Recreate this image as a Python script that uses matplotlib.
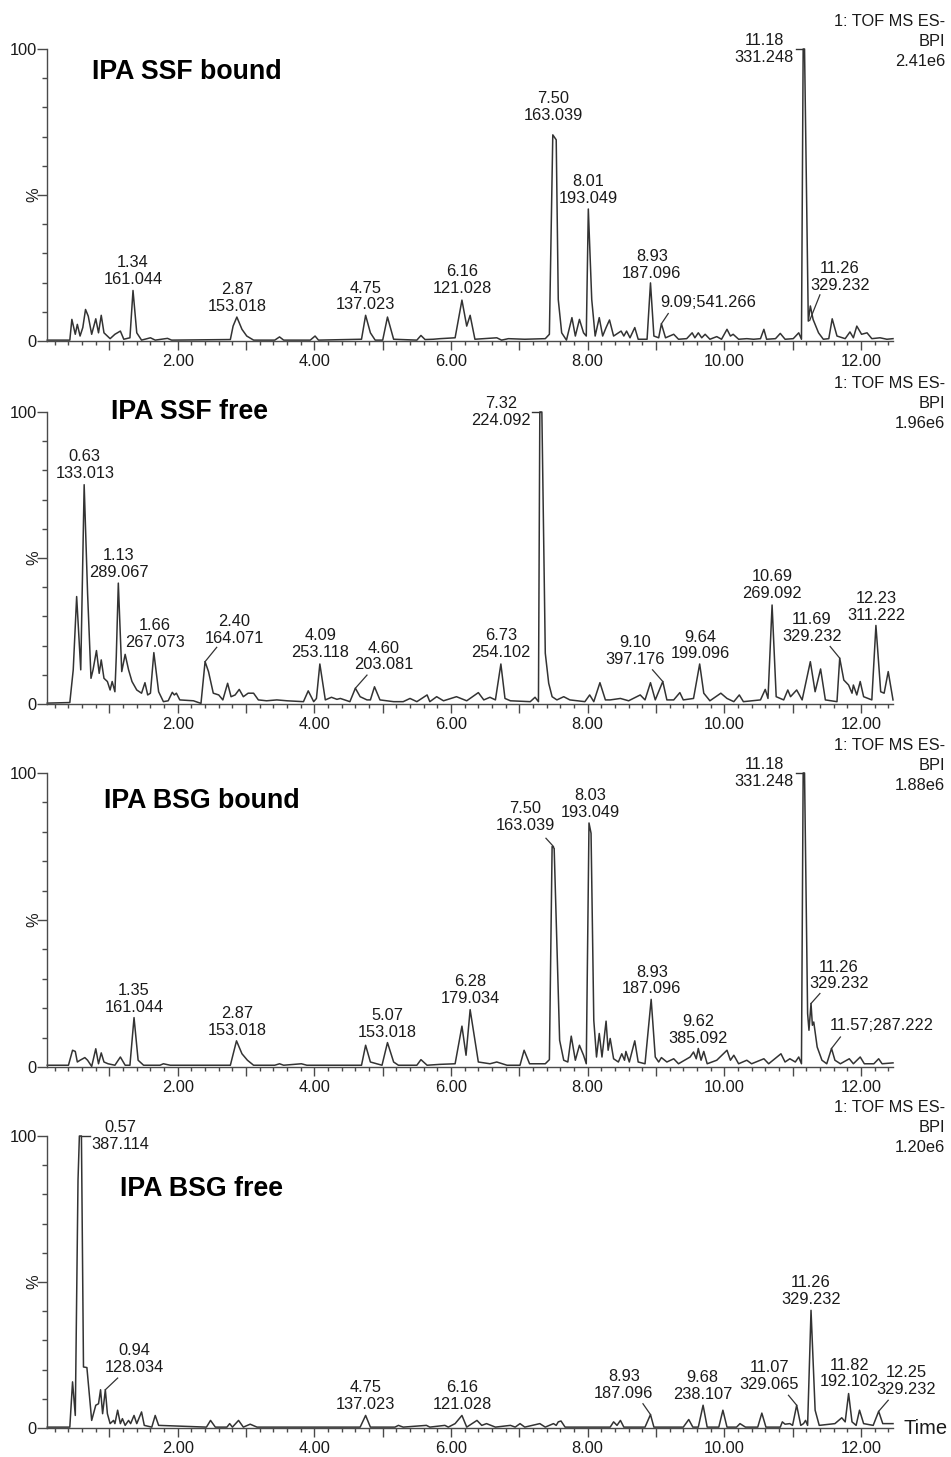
import matplotlib
matplotlib.use("Agg")
import matplotlib.pyplot as plt
from matplotlib.ticker import MultipleLocator, FixedLocator, FuncFormatter

plt.rcParams['font.family'] = ['Liberation Sans', 'DejaVu Sans']

# ---------------- data ----------------
titles = ["IPA SSF bound", "IPA SSF free", "IPA BSG bound", "IPA BSG free"]
header = "1: TOF MS ES-"
header2 = "BPI"
bpi_max = ["2.41e6", "1.96e6", "1.88e6", "1.20e6"]
x_range = (0.086, 12.47)

# Panel 1: IPA SSF bound
t1 = [0.09, 0.42, 0.45, 0.50, 0.53, 0.57, 0.61, 0.65, 0.69, 0.74, 0.80, 0.84, 0.88, 0.92, 1.01, 1.08,
      1.16, 1.21, 1.30, 1.345, 1.40, 1.47, 1.60, 1.67, 1.85, 1.91, 2.77, 2.81, 2.865, 2.94, 3.01, 3.11,
      3.42, 3.49, 3.55, 3.94, 4.01, 4.06, 4.69, 4.75, 4.82, 4.89, 5.00, 5.07, 5.16, 5.50, 5.56, 5.62,
      5.74, 5.84, 6.06, 6.16, 6.23, 6.28, 6.35, 6.67, 6.74, 6.84, 7.08, 7.38, 7.44, 7.46, 7.49, 7.54,
      7.57, 7.62, 7.69, 7.77, 7.82, 7.88, 7.94, 7.98, 8.01, 8.06, 8.11, 8.17, 8.22, 8.27, 8.32, 8.38,
      8.45, 8.49, 8.53, 8.57, 8.62, 8.69, 8.74, 8.87, 8.92, 8.97, 9.04, 9.08, 9.14, 9.26, 9.33, 9.45,
      9.53, 9.57, 9.62, 9.67, 9.72, 9.79, 9.89, 9.96, 10.04, 10.09, 10.13, 10.21, 10.33, 10.43, 10.53,
      10.58, 10.62, 10.75, 10.82, 10.89, 11.01, 11.09, 11.13, 11.155, 11.175, 11.23, 11.26, 11.30,
      11.38, 11.45, 11.53, 11.58, 11.65, 11.77, 11.84, 11.89, 11.94, 12.01, 12.09, 12.16, 12.28,
      12.38, 12.47]
y1 = [0.3, 0.3, 7.4, 2.3, 5.7, 1.7, 4.6, 10.8, 8.5, 2.3, 7.6, 2.8, 8.8, 2.8, 0.8, 2.3,
      3.4, 0.6, 1.1, 17.3, 2.8, 0.3, 1.1, 0.3, 0.9, 0.3, 0.5, 5.1, 8.2, 4.0, 1.7, 0.3,
      0.3, 1.4, 0.3, 0.3, 1.7, 0.3, 0.6, 8.8, 2.8, 0.3, 0.3, 8.2, 0.6, 0.3, 1.9, 0.5,
      0.6, 0.8, 1.1, 14.0, 5.1, 8.8, 0.6, 1.1, 0.3, 0.8, 0.6, 0.8, 2.3, 30.0, 70.6, 68.9,
      14.2, 2.8, 0.3, 8.0, 1.7, 7.4, 2.8, 1.7, 45.2, 14.2, 1.7, 8.0, 1.7, 4.6, 7.2, 1.7,
      2.8, 3.4, 1.7, 3.4, 1.1, 4.6, 0.6, 0.6, 19.9, 1.7, 1.1, 5.9, 1.1, 2.3, 0.6, 0.8,
      2.8, 1.1, 2.8, 1.1, 2.3, 0.6, 1.5, 0.6, 4.0, 1.7, 2.3, 0.6, 0.8, 0.6, 0.8,
      4.0, 0.6, 0.8, 2.6, 0.6, 0.8, 2.8, 0.6, 100.0, 100.0, 6.8, 12.0, 7.4,
      2.8, 0.6, 0.8, 7.6, 1.7, 0.8, 3.1, 1.1, 5.1, 2.3, 2.8, 0.8, 1.1,
      0.6, 0.8]

# Panel 2: IPA SSF free
t2 = [0.09, 0.42, 0.47, 0.52, 0.58, 0.63, 0.68, 0.73, 0.76, 0.81, 0.85, 0.88, 0.92, 0.97, 1.01, 1.04,
      1.08, 1.10, 1.13, 1.18, 1.23, 1.28, 1.33, 1.40, 1.47, 1.52, 1.56, 1.60, 1.65, 1.72, 1.79, 1.86,
      1.92, 1.95, 1.98, 2.03, 2.23, 2.34, 2.40, 2.45, 2.52, 2.60, 2.66, 2.73, 2.78, 2.84, 2.90, 2.96,
      3.03, 3.11, 3.18, 3.30, 3.45, 3.60, 3.84, 3.91, 3.99, 4.03, 4.08, 4.16, 4.25, 4.33, 4.38, 4.52,
      4.60, 4.67, 4.77, 4.82, 4.88, 4.96, 5.16, 5.30, 5.40, 5.50, 5.65, 5.69, 5.79, 5.89, 6.08, 6.23,
      6.40, 6.48, 6.57, 6.65, 6.73, 6.79, 6.87, 7.16, 7.23, 7.28, 7.30, 7.33, 7.38, 7.43, 7.48, 7.55,
      7.65, 7.74, 7.96, 8.03, 8.09, 8.18, 8.26, 8.33, 8.48, 8.60, 8.77, 8.84, 8.92, 8.99, 9.10, 9.16,
      9.26, 9.35, 9.40, 9.55, 9.64, 9.70, 9.79, 9.95, 10.04, 10.14, 10.22, 10.28, 10.53, 10.60, 10.64,
      10.70, 10.76, 10.87, 10.93, 10.97, 11.06, 11.14, 11.26, 11.33, 11.41, 11.48, 11.65, 11.69, 11.75,
      11.82, 11.87, 11.89, 11.94, 11.99, 12.04, 12.16, 12.22, 12.29, 12.34, 12.40, 12.47]
y2 = [0.3, 0.5, 11.7, 36.8, 11.7, 75.1, 37.9, 8.8, 11.7, 18.3, 10.5, 15.1, 8.8, 7.7, 4.8, 7.7,
      4.2, 16.2, 41.4, 11.1, 17.0, 11.7, 7.7, 4.8, 3.7, 7.3, 3.1, 3.7, 17.6, 4.2, 0.8, 1.1,
      4.0, 3.1, 3.7, 1.4, 1.1, 0.2, 14.5, 11.1, 3.7, 3.1, 1.4, 7.1, 2.5, 3.1, 5.0, 2.5,
      3.7, 3.7, 1.4, 1.1, 1.4, 1.1, 0.8, 4.5, 0.8, 1.9, 13.7, 1.4, 2.3, 1.6, 1.9, 0.8,
      5.4, 2.5, 1.4, 1.4, 5.9, 1.4, 0.8, 0.8, 1.9, 0.8, 3.1, 0.8, 2.5, 1.1, 2.5, 1.1,
      3.9, 1.4, 2.3, 1.4, 13.7, 1.9, 1.1, 0.8, 2.3, 0.8, 100.0, 100.0, 17.4, 7.1, 2.5, 1.4,
      2.5, 1.4, 0.8, 3.1, 0.8, 7.3, 1.4, 1.4, 1.9, 1.1, 3.1, 1.4, 7.3, 1.4, 7.7, 1.4,
      1.4, 3.9, 1.4, 1.9, 13.7, 3.7, 1.1, 3.7, 1.9, 0.8, 3.1, 0.8, 1.4, 5.0, 1.9,
      33.9, 2.5, 1.4, 4.8, 2.5, 4.8, 1.4, 14.5, 4.2, 12.0, 1.4, 0.8, 15.7, 8.2,
      6.5, 3.7, 6.5, 3.1, 7.7, 2.5, 1.4, 26.9, 4.2, 3.7, 11.1, 1.4]

# Panel 3: IPA BSG bound
t3 = [0.09, 0.40, 0.46, 0.50, 0.53, 0.57, 0.61, 0.64, 0.68, 0.74, 0.80, 0.84, 0.88, 0.92, 0.98, 1.08,
      1.16, 1.23, 1.30, 1.36, 1.42, 1.50, 1.74, 1.79, 1.89, 2.77, 2.86, 2.94, 3.02, 3.11, 3.42, 3.49,
      3.55, 3.81, 3.89, 4.69, 4.75, 4.82, 4.99, 5.07, 5.16, 5.23, 5.50, 5.56, 5.65, 5.84, 6.06, 6.16,
      6.22, 6.28, 6.40, 6.57, 6.67, 6.82, 7.01, 7.07, 7.15, 7.38, 7.44, 7.48, 7.51, 7.54, 7.59, 7.65,
      7.71, 7.76, 7.82, 7.88, 7.94, 7.98, 8.02, 8.05, 8.09, 8.13, 8.17, 8.21, 8.27, 8.30, 8.33, 8.38,
      8.45, 8.50, 8.54, 8.56, 8.61, 8.69, 8.74, 8.84, 8.93, 8.99, 9.04, 9.08, 9.16, 9.26, 9.33, 9.50,
      9.55, 9.59, 9.62, 9.66, 9.70, 9.75, 9.89, 10.04, 10.09, 10.14, 10.21, 10.33, 10.40, 10.58, 10.65,
      10.83, 10.89, 10.96, 11.04, 11.09, 11.13, 11.155, 11.175, 11.22, 11.24, 11.27, 11.29, 11.31,
      11.36, 11.43, 11.50, 11.57, 11.62, 11.70, 11.83, 11.89, 11.99, 12.05, 12.19, 12.26, 12.31, 12.47]
y3 = [0.6, 0.6, 5.7, 5.3, 1.7, 2.3, 2.8, 3.2, 2.3, 0.2, 6.2, 1.1, 4.8, 1.7, 1.1, 0.6,
      3.4, 0.6, 0.6, 16.8, 2.3, 0.6, 0.6, 1.1, 0.6, 0.6, 8.9, 4.5, 2.3, 0.6, 0.6, 1.1,
      0.6, 1.1, 0.6, 0.6, 7.4, 1.7, 0.6, 8.3, 1.7, 0.6, 0.6, 2.5, 0.6, 0.9, 1.1, 13.9,
      4.0, 19.5, 1.7, 1.1, 1.7, 0.6, 0.6, 5.7, 1.1, 1.1, 2.5, 75.0, 74.4, 50.0, 9.1, 2.3,
      1.7, 10.5, 2.3, 7.4, 4.0, 1.1, 83.0, 79.5, 15.9, 3.4, 11.4, 3.4, 15.6, 5.7, 9.7, 2.8,
      1.7, 4.5, 2.3, 5.3, 1.7, 8.9, 1.7, 1.1, 23.0, 3.4, 1.7, 3.2, 1.7, 2.8, 1.1, 3.4,
      5.1, 2.8, 6.3, 2.3, 5.3, 1.1, 2.3, 5.7, 2.3, 4.0, 1.1, 2.3, 1.1, 2.8, 1.1,
      4.5, 1.7, 2.8, 1.7, 3.4, 1.1, 100.0, 100.0, 18.2, 12.5, 21.6, 14.2, 15.3,
      6.8, 2.3, 1.1, 6.3, 2.3, 1.1, 2.8, 1.1, 3.4, 1.1, 1.1, 2.8, 1.1, 1.4]

# Panel 4: IPA BSG free
t4 = [0.09, 0.42, 0.46, 0.50, 0.54, 0.56, 0.59, 0.62, 0.67, 0.74, 0.80, 0.84, 0.87, 0.90, 0.94, 0.97,
      1.01, 1.06, 1.08, 1.12, 1.16, 1.19, 1.23, 1.28, 1.31, 1.36, 1.40, 1.47, 1.51, 1.62, 1.67, 1.72,
      2.42, 2.48, 2.55, 2.72, 2.76, 2.80, 2.89, 2.96, 3.06, 3.16, 4.67, 4.75, 4.82, 5.18, 5.23, 5.30,
      5.64, 5.69, 5.91, 5.96, 6.06, 6.16, 6.23, 6.38, 6.45, 6.52, 6.65, 6.87, 6.94, 7.01, 7.08, 7.30,
      7.38, 7.50, 7.54, 7.57, 7.61, 7.67, 8.33, 8.38, 8.43, 8.48, 8.53, 8.84, 8.92, 8.97, 9.40, 9.48,
      9.54, 9.62, 9.69, 9.75, 9.92, 9.98, 10.04, 10.18, 10.23, 10.31, 10.49, 10.55, 10.61, 10.82,
      10.85, 10.89, 10.96, 11.00, 11.06, 11.12, 11.16, 11.19, 11.22, 11.27, 11.33, 11.39, 11.62,
      11.72, 11.77, 11.82, 11.87, 11.93, 11.98, 12.04, 12.18, 12.26, 12.32, 12.47]
y4 = [0.3, 0.3, 15.8, 4.3, 84.9, 100.0, 100.0, 20.9, 20.7, 2.6, 7.8, 8.3, 13.1, 4.9, 13.1, 4.9,
      1.5, 2.6, 1.5, 6.1, 1.5, 3.2, 0.9, 2.6, 1.5, 4.3, 1.5, 5.5, 0.9, 0.3, 4.3, 0.9,
      0.3, 2.6, 0.3, 0.3, 1.5, 0.3, 2.6, 0.3, 1.3, 0.3, 0.3, 4.3, 0.3, 0.3, 0.9, 0.3,
      0.9, 0.3, 0.9, 0.3, 1.5, 4.3, 0.3, 2.6, 0.9, 1.5, 0.3, 0.9, 0.3, 1.5, 0.3, 1.5,
      0.3, 1.5, 0.9, 2.1, 2.4, 0.3, 0.3, 2.1, 0.9, 2.6, 0.3, 0.3, 4.6, 0.3, 0.3, 2.9,
      0.3, 0.3, 7.8, 0.3, 0.3, 6.1, 0.3, 0.3, 1.5, 0.3, 0.3, 5.1, 0.3, 0.3,
      2.1, 1.3, 1.5, 0.9, 7.8, 0.9, 1.5, 2.6, 0.9, 40.3, 6.1, 0.9, 1.5,
      3.5, 2.1, 11.8, 2.1, 0.9, 6.1, 1.5, 0.9, 5.7, 1.5, 1.5]

# Peak labels: (retention time, m/z, peak time, peak height)
peaks1 = [("1.34", "161.044", 1.345, 17.3), ("2.87", "153.018", 2.865, 8.2),
          ("4.75", "137.023", 4.75, 8.8), ("6.16", "121.028", 6.16, 14.0),
          ("7.50", "163.039", 7.49, 70.6), ("8.01", "193.049", 8.01, 45.2),
          ("8.93", "187.096", 8.92, 19.9), ("9.09", "541.266", 9.08, 5.9),
          ("11.18", "331.248", 11.155, 100.0), ("11.26", "329.232", 11.25, 7.0)]
peaks2 = [("0.63", "133.013", 0.63, 75.1), ("1.13", "289.067", 1.13, 41.4),
          ("1.66", "267.073", 1.65, 17.6), ("2.40", "164.071", 2.40, 14.5),
          ("4.09", "253.118", 4.08, 13.7), ("4.60", "203.081", 4.60, 5.4),
          ("6.73", "254.102", 6.73, 13.7), ("7.32", "224.092", 7.30, 100.0),
          ("9.10", "397.176", 9.10, 7.7), ("9.64", "199.096", 9.64, 13.7),
          ("10.69", "269.092", 10.70, 33.9), ("11.69", "329.232", 11.69, 15.7),
          ("12.23", "311.222", 12.22, 26.9)]
peaks3 = [("1.35", "161.044", 1.36, 16.8), ("2.87", "153.018", 2.86, 8.9),
          ("5.07", "153.018", 5.07, 8.3), ("6.28", "179.034", 6.28, 19.5),
          ("7.50", "163.039", 7.50, 75.0), ("8.03", "193.049", 8.02, 83.0),
          ("8.93", "187.096", 8.93, 23.0), ("9.62", "385.092", 9.62, 6.3),
          ("11.18", "331.248", 11.155, 100.0), ("11.26", "329.232", 11.27, 21.6),
          ("11.57", "287.222", 11.57, 6.3)]
peaks4 = [("0.57", "387.114", 0.59, 100.0), ("0.94", "128.034", 0.94, 13.1),
          ("4.75", "137.023", 4.75, 4.3), ("6.16", "121.028", 6.16, 4.3),
          ("8.93", "187.096", 8.92, 4.6), ("9.68", "238.107", 9.69, 7.8),
          ("11.07", "329.065", 11.06, 7.8), ("11.26", "329.232", 11.27, 40.3),
          ("11.82", "192.102", 11.82, 11.8), ("12.25", "329.232", 12.26, 5.7)]

# ---------------- layout for labels (positions only) ----------------
# (mode, text_x, text_y, leader_x, leader_y)
lay1 = [("top", 1.345, 18.4), ("top", 2.87, 9.3), ("top", 4.75, 9.8), ("top", 6.16, 15.4),
        ("top", 7.50, 74.6), ("top", 8.01, 46.2), ("top", 8.94, 20.6),
        ("one", 9.77, 10.6, 9.18, 9.4), ("brL", 11.02, 100.0, 11.05),
        ("lead", 11.69, 16.6, 11.40, 15.8)]
lay2 = [("top", 0.64, 76.3), ("top", 1.14, 42.6), ("top", 1.66, 18.6),
        ("lead", 2.83, 20.0, 2.57, 19.4), ("top", 4.09, 15.0),
        ("lead", 5.01, 10.8, 4.77, 9.9), ("top", 6.73, 15.0), ("brL", 7.17, 100.0, 7.19),
        ("lead", 8.69, 12.7, 8.95, 11.7), ("top", 9.65, 14.6), ("top", 10.70, 35.4),
        ("lead", 11.28, 20.7, 11.55, 19.7), ("top", 12.23, 27.8)]
lay3 = [("top", 1.36, 17.7), ("top", 2.87, 9.8), ("top", 5.07, 9.2), ("top", 6.28, 20.8),
        ("lead", 7.09, 79.6, 7.39, 77.8), ("top", 8.04, 84.0), ("top", 8.94, 24.0),
        ("top", 9.62, 7.1), ("brL", 11.02, 100.0, 11.05),
        ("lead", 11.68, 25.7, 11.40, 25.0), ("one", 12.31, 11.5, 11.70, 10.2)]
lay4 = [("brR", 0.74, 100.0, 0.72), ("lead", 1.37, 18.1, 1.12, 17.1),
        ("top", 4.75, 5.6), ("top", 6.16, 5.6), ("lead", 8.53, 9.4, 8.81, 8.3),
        ("top", 9.68, 9.0), ("lead", 10.66, 12.4, 10.94, 11.2), ("top", 11.27, 41.6),
        ("top", 11.83, 13.2), ("lead", 12.66, 10.7, 12.40, 9.5)]

# ---------------- figure ----------------
W, H = 951, 1457
fig = plt.figure(figsize=(W / 100, H / 100), dpi=100)

tops = [49, 412, 773, 1136]
bots = [341, 704, 1067, 1428]
title_pos = [(92, 72), (111, 412), (104, 801), (120, 1189)]
AX_L, AX_R = 47, 893
LINE = "#333333"
SPINE = "#4a4a4a"
TXT = "#1a1a1a"
FS = 11.8

series = [(t1, y1, peaks1, lay1), (t2, y2, peaks2, lay2),
          (t3, y3, peaks3, lay3), (t4, y4, peaks4, lay4)]


def even_fmt(v, pos):
    if v > 0.5 and abs(v / 2 - round(v / 2)) < 1e-6:
        return f"{v:.2f}"
    return ""


for i, (tt, yy, pk, lay) in enumerate(series):
    top, bot = tops[i], bots[i]
    ax = fig.add_axes([AX_L / W, 1 - bot / H, (AX_R - AX_L) / W, (bot - top) / H])
    ax.plot(tt, yy, color=LINE, lw=1.1, clip_on=False)
    ax.set_xlim(*x_range)
    ax.set_ylim(0, 100)
    for s in ("top", "right"):
        ax.spines[s].set_visible(False)
    for s in ("left", "bottom"):
        ax.spines[s].set_color(SPINE)
        ax.spines[s].set_linewidth(1.0)
    ax.xaxis.set_major_locator(MultipleLocator(1))
    ax.xaxis.set_minor_locator(MultipleLocator(0.2))
    ax.xaxis.set_major_formatter(FuncFormatter(even_fmt))
    ax.yaxis.set_major_locator(FixedLocator([0, 50, 100]))
    ax.yaxis.set_minor_locator(MultipleLocator(10))
    ax.set_yticklabels(["0", "", "100"])
    ax.tick_params(axis="x", which="major", direction="out", length=6.5, width=1,
                   color=SPINE, labelsize=FS, labelcolor=TXT, pad=3)
    ax.tick_params(axis="x", which="minor", direction="out", length=3, width=1, color=SPINE)
    ax.tick_params(axis="y", which="major", direction="out", length=7, width=1,
                   color=SPINE, labelsize=FS, labelcolor=TXT, pad=0.5)
    ax.tick_params(axis="y", which="minor", direction="out", length=3.5, width=1, color=SPINE)
    ax.patch.set_alpha(0)

    # "%" label at 50
    ax.text((34 - AX_L) / (AX_R - AX_L), 50, "%", transform=ax.get_yaxis_transform(),
            fontsize=FS, color=TXT, rotation=90, ha="center", va="center")

    # peak labels
    for (rt, mz, px, py), L in zip(pk, lay):
        mode = L[0]
        if mode == "top":
            ax.text(L[1], L[2], f"{rt}\n{mz}", ha="center", va="bottom", fontsize=FS,
                    color=TXT, linespacing=1.15)
        elif mode == "lead":
            ax.text(L[1], L[2], f"{rt}\n{mz}", ha="center", va="bottom", fontsize=FS,
                    color=TXT, linespacing=1.15)
            ax.plot([L[3], px], [L[4], py], color=LINE, lw=0.9)
        elif mode == "one":
            ax.text(L[1], L[2], f"{rt};{mz}", ha="center", va="bottom", fontsize=FS, color=TXT)
            ax.plot([L[3], px], [L[4], py], color=LINE, lw=0.9)
        elif mode == "brL":
            ax.text(L[1], L[2], f"{rt}\n{mz}", ha="right", va="center", fontsize=FS,
                    color=TXT, linespacing=1.15, multialignment="center")
            ax.plot([L[3], px], [py, py], color=LINE, lw=1.0, clip_on=False)
        elif mode == "brR":
            ax.text(L[1], L[2], f"{rt}\n{mz}", ha="left", va="center", fontsize=FS,
                    color=TXT, linespacing=1.15, multialignment="center")
            ax.plot([px, L[3]], [py, py], color=LINE, lw=1.0, clip_on=False)

    # header
    hx = 945 / W
    fig.text(hx, 1 - (top - 28) / H, header, ha="right", va="center", fontsize=FS, color=TXT)
    fig.text(hx, 1 - (top - 8) / H, header2, ha="right", va="center", fontsize=FS, color=TXT)
    fig.text(hx, 1 - (top + 12) / H, bpi_max[i], ha="right", va="center", fontsize=FS, color=TXT)

    # title
    tx, ty = title_pos[i]
    fig.text(tx / W, 1 - ty / H, titles[i], ha="left", va="center", fontsize=19.3,
             fontweight="bold", color="black")

fig.text(903 / W, 1 - 1428 / H, "Time", ha="left", va="center", fontsize=14.5, color=TXT)

fig.savefig("out.png", dpi=100)
